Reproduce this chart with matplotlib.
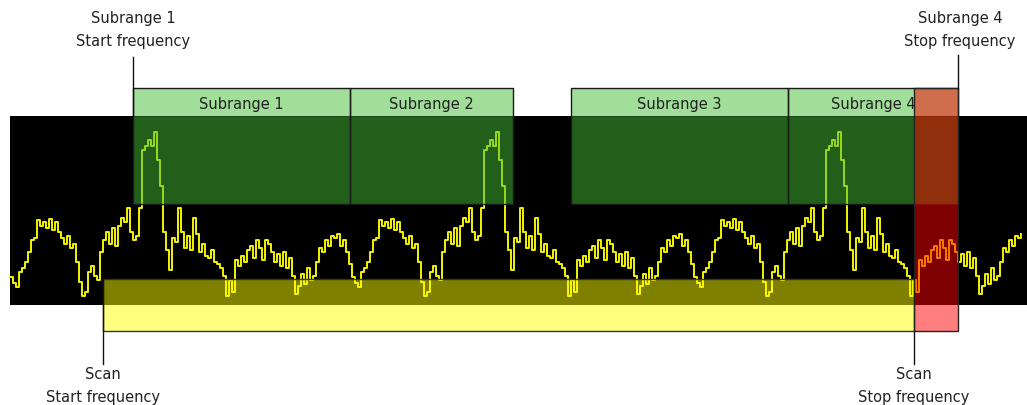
import numpy as np
import matplotlib
matplotlib.use("Agg")
import matplotlib.pyplot as plt
from matplotlib.patches import Rectangle

# frequency axis is in screen units (0..1027), level axis inverted (0 = top)
subrange_names = ["Subrange 1", "Subrange 2", "Subrange 3", "Subrange 4"]
subrange_start = [133, 350, 571, 788]
subrange_stop = [350, 513, 788, 958]
scan_start = 103
scan_stop = 914
trace_start = 10
trace_step = 3

# spectrum trace levels, read every 3 units from x=10
trace = [
    277, 283, 287, 272, 268, 262, 252, 240, 238, 220, 226, 222, 228, 219, 230, 222,
    232, 238, 244, 236, 248, 244, 262, 282, 296, 292, 272, 266, 276, 280, 252, 240,
    232, 244, 228, 246, 226, 218, 222, 208, 232, 240, 236, 208, 150, 146, 140, 146,
    132, 160, 186, 232, 250, 270, 238, 242, 208, 232, 248, 236, 250, 218, 234, 252,
    244, 256, 258, 250, 262, 264, 268, 276, 296, 280, 292, 260, 266, 256, 262, 250,
    246, 258, 240, 248, 260, 240, 244, 252, 262, 254, 266, 252, 268, 258, 276, 294,
    286, 274, 284, 268, 280, 276, 262, 248, 252, 240, 246, 236, 238, 234, 246, 240,
    252, 264,
    277, 283, 287, 272, 268, 262, 252, 240, 238, 220, 226, 222, 228, 219, 230, 222,
    232, 238, 244, 236, 248, 244, 262, 282, 296, 292, 272, 266, 276, 280, 252, 240,
    232, 244, 228, 246, 226, 218, 222, 208, 232, 240, 236, 208, 150, 146, 140, 146,
    132, 160, 186, 232, 250, 270, 238, 242, 208, 232, 248, 236, 250, 218, 234, 252,
    244, 256, 258, 250, 262, 264, 268, 276, 296, 280, 292, 260, 266, 256, 262, 250,
    246, 258, 240, 248, 260, 240, 244, 252, 262, 254, 266, 252, 268, 258, 276, 294,
    286, 274, 284, 268, 280, 276, 262, 248, 252, 240, 246, 236, 238, 234, 246, 240,
    252, 264,
    277, 283, 287, 272, 268, 262, 252, 240, 238, 220, 226, 222, 228, 219, 230, 222,
    232, 238, 244, 236, 248, 244, 262, 282, 296, 292, 272, 266, 276, 280, 252, 240,
    232, 244, 228, 246, 226, 218, 222, 208, 232, 240, 236, 208, 150, 146, 140, 146,
    132, 160, 186, 232, 250, 270, 238, 242, 208, 232, 248, 236, 250, 218, 234, 252,
    244, 256, 258, 250, 262, 264, 268, 276, 296, 280, 292, 260, 266, 256, 262, 250,
    246, 258, 240, 248, 260, 240, 244, 252, 262, 254, 266, 252, 268, 258, 276, 294,
    286, 274, 284, 268, 280, 276, 262, 248, 252, 240, 246, 236, 238, 234,
]

plt.rcParams['font.family'] = ['DejaVu Sans']
txt = '#222222'
fs = 10.5

fig = plt.figure(figsize=(10.27, 4.05), dpi=100)
ax = fig.add_axes([0, 0, 1, 1])
ax.set_xlim(0, 1027)
ax.set_ylim(405, 0)
ax.axis('off')

# black display area
ax.add_patch(Rectangle((10, 116), 1017, 189, facecolor='black', edgecolor='none', zorder=1))

# spectrum trace
freq = trace_start + trace_step * np.arange(len(trace))
ax.plot(freq, trace, color='#f4f400', lw=1.4, drawstyle='steps-post', zorder=2)

# subranges (green, half transparent)
for name, a, b in zip(subrange_names, subrange_start, subrange_stop):
    ax.add_patch(Rectangle((a, 88), b - a, 116, facecolor=(66/255, 190/255, 52/255, 0.5),
                           edgecolor='none', zorder=3))
    ax.add_patch(Rectangle((a, 88), b - a, 116, facecolor='none',
                           edgecolor='#1a1a1a', lw=1.0, zorder=4))
    ax.plot([a, b], [116, 116], color='#1a1a1a', lw=0.6, alpha=0.4, zorder=4)
    ax.text((a + b) / 2, 104, name, ha='center', va='center', fontsize=fs,
            color=txt, zorder=4)

# scan range (yellow)
ax.add_patch(Rectangle((scan_start, 279), scan_stop - scan_start, 52,
                       facecolor=(1, 1, 0, 0.5), edgecolor='#333333', lw=1.0, zorder=5))

# part of subrange 4 outside scan range (red)
ax.add_patch(Rectangle((scan_stop, 88), subrange_stop[-1] - scan_stop, 243,
                       facecolor=(1, 0, 0, 0.5), edgecolor='#222222', lw=1.0, zorder=6))

# markers and labels
ax.plot([subrange_start[0]] * 2, [57, 116], color='#111111', lw=1.0, zorder=7)
ax.plot([subrange_stop[-1]] * 2, [55, 88], color='#111111', lw=1.0, zorder=7)
ax.plot([scan_start] * 2, [279, 364], color='#111111', lw=1.0, zorder=7)
ax.plot([scan_stop] * 2, [331, 364], color='#111111', lw=1.0, zorder=7)

ax.text(subrange_start[0], 30, "Subrange 1\nStart frequency", ha='center', va='center',
        fontsize=fs, color=txt, linespacing=1.6)
ax.text(subrange_stop[-1] + 2, 30, "Subrange 4\nStop frequency", ha='center', va='center',
        fontsize=fs, color=txt, linespacing=1.6)
ax.text(scan_start, 386, "Scan\nStart frequency", ha='center', va='center',
        fontsize=fs, color=txt, linespacing=1.6)
ax.text(scan_stop, 386, "Scan\nStop frequency", ha='center', va='center',
        fontsize=fs, color=txt, linespacing=1.6)

plt.savefig("out.png", dpi=100)
